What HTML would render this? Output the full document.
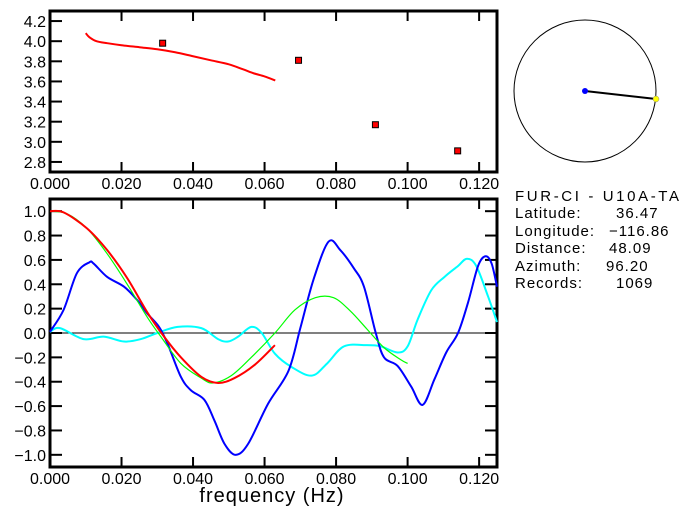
<!DOCTYPE html>
<html><head><meta charset="utf-8"><style>
body{margin:0;background:#fff;}
svg{display:block;font-family:"Liberation Sans",sans-serif;}
</style></head><body>
<svg id="c" width="690" height="519" xmlns="http://www.w3.org/2000/svg">
<g id="top"></g>
<g id="bot"></g>
<g>
<circle cx="585" cy="91" r="71" fill="none" stroke="#000" stroke-width="1"/>
<line x1="585" y1="91" x2="656" y2="99" stroke="#000" stroke-width="2"/>
<circle cx="585" cy="91" r="3" fill="#0000ff"/>
<circle cx="656" cy="99" r="3" fill="#ffff00" stroke="#888" stroke-width="0.5"/>
</g>
<g font-size="15" fill="#000" letter-spacing="1">
<text x="515" y="201" textLength="165">FUR-CI  -  U10A-TA</text>
<text x="515" y="218">Latitude:</text><text x="616" y="218">36.47</text>
<text x="515" y="236">Longitude:</text><text x="609" y="236">−116.86</text>
<text x="515" y="253">Distance:</text><text x="609" y="253">48.09</text>
<text x="515" y="271">Azimuth:</text><text x="606" y="271">96.20</text>
<text x="515" y="288">Records:</text><text x="616" y="288">1069</text>
</g>
<text x="272" y="502" font-size="20" letter-spacing="1" text-anchor="middle">frequency (Hz)</text>
</svg>
<script>
// top panel data
const topPtsX=[0.0315,0.0695,0.091,0.114];
const topPtsY=[3.98,3.81,3.17,2.91];
const topCurveX=[0.010,0.011,0.013,0.016,0.020,0.025,0.030,0.035,0.040,0.045,0.050,0.054,0.057,0.060,0.063];
const topCurveY=[4.08,4.04,4.00,3.98,3.96,3.94,3.92,3.89,3.85,3.81,3.77,3.72,3.68,3.65,3.61];
const topYTicks=[2.8,3.0,3.2,3.4,3.6,3.8,4.0,4.2];
const xTicks=[0,0.02,0.04,0.06,0.08,0.1,0.12];
const xTickLabels=["0.000","0.020","0.040","0.060","0.080","0.100","0.120"];
// bottom panel data
const botYTicks=[-1.0,-0.8,-0.6,-0.4,-0.2,0.0,0.2,0.4,0.6,0.8,1.0];
const blueX=[0,0.0038,0.0075,0.011,0.0122,0.016,0.0207,0.0244,0.0272,0.0305,0.0329,0.0366,0.0394,0.0432,0.046,0.0488,0.0519,0.0554,0.061,0.0667,0.070,0.0737,0.0779,0.0812,0.085,0.0878,0.0911,0.0934,0.0972,0.101,0.1042,0.1075,0.1108,0.1141,0.1169,0.1197,0.1218,0.1235,0.125];
const blueY=[0.01,0.19,0.49,0.58,0.57,0.46,0.38,0.27,0.16,0.05,-0.09,-0.36,-0.47,-0.55,-0.72,-0.91,-1.0,-0.91,-0.58,-0.31,0.04,0.44,0.75,0.68,0.53,0.38,0,-0.2,-0.27,-0.44,-0.59,-0.38,-0.16,0,0.25,0.55,0.63,0.57,0.38];
const cyanX=[0,0.0028,0.0094,0.015,0.0207,0.0254,0.030,0.0357,0.0423,0.047,0.0498,0.0526,0.0563,0.0592,0.0629,0.0676,0.0732,0.0775,0.0822,0.0887,0.0925,0.0972,0.100,0.1028,0.1066,0.1103,0.1141,0.1166,0.1192,0.1225,0.125];
const cyanY=[0.01,0.04,-0.05,-0.03,-0.07,-0.05,0,0.05,0.04,-0.05,-0.07,-0.03,0.05,0,-0.17,-0.28,-0.35,-0.25,-0.11,-0.10,-0.11,-0.16,-0.11,0.11,0.35,0.46,0.55,0.61,0.55,0.30,0.09];
const greenX=[0,0.0047,0.0103,0.016,0.0216,0.0272,0.031,0.0366,0.0423,0.0456,0.0507,0.0563,0.0629,0.0685,0.0742,0.0793,0.084,0.0887,0.0934,0.0981,0.100];
const greenY=[1.0,0.98,0.86,0.65,0.40,0.13,-0.03,-0.25,-0.37,-0.41,-0.35,-0.20,0,0.19,0.29,0.29,0.18,0.03,-0.12,-0.22,-0.25];
const redX=[0,0.0038,0.0103,0.016,0.0216,0.0272,0.0319,0.0366,0.0423,0.047,0.0516,0.0573,0.0629];
const redY=[1.0,0.99,0.86,0.68,0.45,0.17,-0.03,-0.20,-0.36,-0.41,-0.37,-0.26,-0.10];

const NS="http://www.w3.org/2000/svg";
function mk(tag,attrs,parent){const e=document.createElementNS(NS,tag);for(const k in attrs)e.setAttribute(k,attrs[k]);parent.appendChild(e);return e;}
const X0=50,X1=497;
const sx=f=>X0+(f/0.125)*(X1-X0);
function panel(g,top,bot,ymin,ymax,yticks,fmt,rightTicks){
  const sy=v=>bot-(v-ymin)/(ymax-ymin)*(bot-top);
  const fr=mk('rect',{x:X0,y:top,width:X1-X0,height:bot-top,fill:'none',stroke:'#000','stroke-width':3},g);
  
  
  yticks.forEach(v=>{
    const y=sy(v);
    mk('line',{x1:X0,y1:y,x2:X0+12,y2:y,stroke:'#000','stroke-width':2},g);
    if(rightTicks) mk('line',{x1:X1-12,y1:y,x2:X1,y2:y,stroke:'#000','stroke-width':2},g);
    const t=mk('text',{x:X0-4,y:y+6,'font-size':16,'text-anchor':'end'},g);
    t.textContent=fmt(v);
    
    
  });
  xTicks.forEach((f,i)=>{
    const x=sx(f);
    mk('line',{x1:x,y1:top,x2:x,y2:top+10,stroke:'#000','stroke-width':2},g);
    mk('line',{x1:x,y1:bot-10,x2:x,y2:bot,stroke:'#000','stroke-width':2},g);
    const t=mk('text',{x:x,y:bot+17,'font-size':16,'text-anchor':'middle'},g);
    t.textContent=xTickLabels[i];
    
    
  });
  return sy;
}
function line(g,xs,ys,sy,color,w,name){
  const P=xs.map((f,i)=>[sx(f),sy(ys[i])]);
  let d='M'+P[0][0]+','+P[0][1];
  for(let i=0;i<P.length-1;i++){
    const p0=P[Math.max(i-1,0)],p1=P[i],p2=P[i+1],p3=P[Math.min(i+2,P.length-1)];
    const c1=[p1[0]+(p2[0]-p0[0])/6,p1[1]+(p2[1]-p0[1])/6];
    const c2=[p2[0]-(p3[0]-p1[0])/6,p2[1]-(p3[1]-p1[1])/6];
    d+=' C'+c1+' '+c2+' '+p2;
  }
  const p=mk('path',{d:d,fill:'none',stroke:color,'stroke-width':w,'stroke-linejoin':'round'},g);
  
  
}
const gt=document.getElementById('top');
const syT=panel(gt,11,172,2.7,4.3,topYTicks,v=>v.toFixed(1),false);
line(gt,topCurveX,topCurveY,syT,'#ff0000',2,'model-curve');
topPtsX.forEach((f,i)=>{
  const r=mk('rect',{x:sx(f)-3,y:syT(topPtsY[i])-3,width:6,height:6,fill:'#ff0000',stroke:'#000','stroke-width':1},gt);
  
  
});
const gb=document.getElementById('bot');
const syB=panel(gb,199,467,-1.1,1.1,botYTicks,v=>(v<0?'−':'')+Math.abs(v).toFixed(1),true);
const z=mk('line',{x1:X0,y1:syB(0),x2:X1,y2:syB(0),stroke:'#000','stroke-width':1},gb);


line(gb,cyanX,cyanY,syB,'#00ffff',2,'cyan-series');
line(gb,blueX,blueY,syB,'#0000ff',2,'blue-series');
line(gb,greenX,greenY,syB,'#00ff00',1.2,'green-series');
line(gb,redX,redY,syB,'#ff0000',2,'red-series');
</script>
</body></html>
